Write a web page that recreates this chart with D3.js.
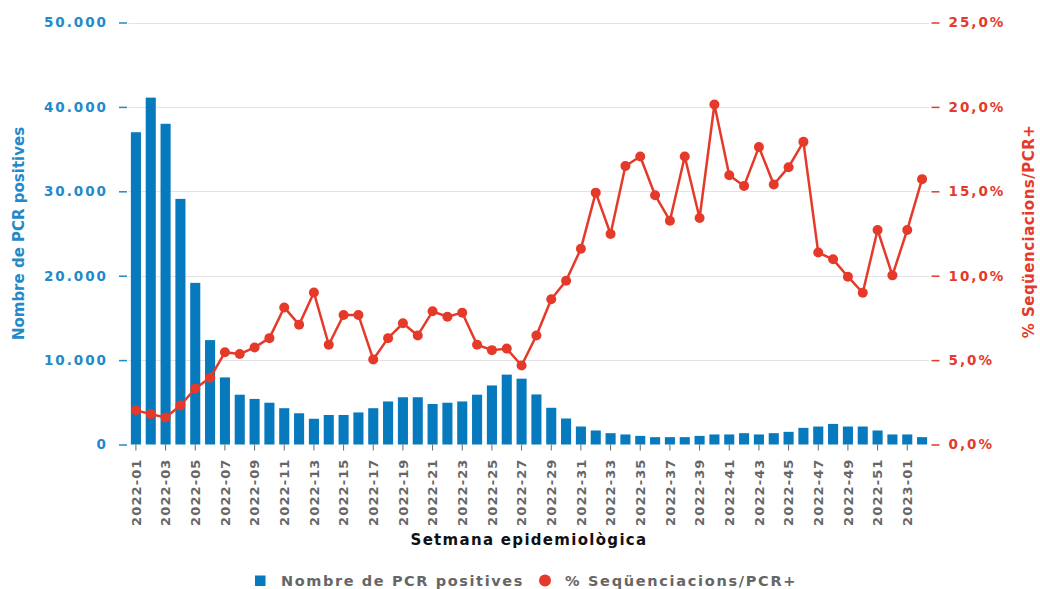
<!DOCTYPE html>
<html>
<head>
<meta charset="utf-8">
<script src="https://cdn.jsdelivr.net/npm/d3@7"></script>
<style>
  body { margin: 0; background: #fff; }
  svg text { font-family: "DejaVu Sans", Verdana, sans-serif; font-weight: bold; }
</style>
</head>
<body>
<svg id="chart" width="1040" height="589"></svg>
<script>
// setmanes epidemiologiques
let weeks = [
    "2022-01", "2022-02", "2022-03", "2022-04", "2022-05", "2022-06", "2022-07", "2022-08", "2022-09", "2022-10",
    "2022-11", "2022-12", "2022-13", "2022-14", "2022-15", "2022-16", "2022-17", "2022-18", "2022-19", "2022-20",
    "2022-21", "2022-22", "2022-23", "2022-24", "2022-25", "2022-26", "2022-27", "2022-28", "2022-29", "2022-30",
    "2022-31", "2022-32", "2022-33", "2022-34", "2022-35", "2022-36", "2022-37", "2022-38", "2022-39", "2022-40",
    "2022-41", "2022-42", "2022-43", "2022-44", "2022-45", "2022-46", "2022-47", "2022-48", "2022-49", "2022-50",
    "2022-51", "2022-52", "2023-01", "2023-02"
];

// Nombre de PCR positives
let pcrPositives = [
    37000, 41100, 38000, 29100, 19150, 12370, 7950, 5900, 5400, 4950,
    4300, 3700, 3050, 3500, 3500, 3800, 4300, 5100, 5600, 5600,
    4800, 4950, 5100, 5900, 7000, 8280, 7800, 5930, 4350, 3080,
    2130, 1660, 1340, 1190, 1020, 870, 870, 870, 1020, 1190,
    1190, 1340, 1190, 1340, 1500, 1970, 2130, 2440, 2130, 2130,
    1660, 1190, 1190, 870
];

// % Sequenciacions / PCR+
let seqPercent = [
    2.03, 1.80, 1.60, 2.31, 3.32, 3.95, 5.46, 5.36, 5.75, 6.30,
    8.12, 7.10, 9.00, 5.91, 7.67, 7.67, 5.04, 6.30, 7.18, 6.46,
    7.89, 7.57, 7.81, 5.91, 5.59, 5.68, 4.68, 6.46, 8.60, 9.70,
    11.60, 14.92, 12.47, 16.50, 17.06, 14.77, 13.26, 17.06, 13.42, 20.14,
    15.95, 15.32, 17.62, 15.40, 16.43, 17.93, 11.37, 10.97, 9.94, 8.99,
    12.71, 10.02, 12.71, 15.72
];

let leftTicks = [0, 10000, 20000, 30000, 40000, 50000];
let rightTicks = [0, 5, 10, 15, 20, 25];

let blue = "#0779bd";
let blueText = "#2389c9";
let red = "#e5392a";
let grey = "#666666";

let locale = d3.formatLocale({decimal: ",", thousands: ".", grouping: [3], currency: ["", "€"]});
let fmtInt = locale.format(",d");
let fmtPct = v => locale.format(".1f")(v) + "%";

let visualize = function () {
    let width = 1040, height = 589;
    let config = {
        margin: {top: 22.5, bottom: 144.5, left: 128.5, right: 110.5}
    };
    config.bodyWidth = width - config.margin.left - config.margin.right;
    config.bodyHeight = height - config.margin.top - config.margin.bottom;

    let svg = d3.select("#chart");

    // scales
    let xScale = d3.scaleBand()
        .domain(weeks)
        .range([config.margin.left, config.margin.left + config.bodyWidth])
        .paddingInner(0.32)
        .paddingOuter(0.16);
    let yLeft = d3.scaleLinear()
        .domain([0, 50000])
        .range([config.margin.top + config.bodyHeight, config.margin.top]);
    let yRight = d3.scaleLinear()
        .domain([0, 25])
        .range([config.margin.top + config.bodyHeight, config.margin.top]);

    let x0 = config.margin.left, x1 = config.margin.left + config.bodyWidth;
    let yBase = config.margin.top + config.bodyHeight;

    // grid
    svg.append("g")
        .selectAll("line")
        .data(leftTicks.slice(1))
        .enter()
        .append("line")
        .attr("x1", x0)
        .attr("x2", x1)
        .attr("y1", d => Math.round(yLeft(d)) + 0.5)
        .attr("y2", d => Math.round(yLeft(d)) + 0.5)
        .attr("stroke", "#e3e3e3")
        .attr("stroke-width", 1);

    // bars
    svg.append("g")
        .selectAll(".bar")
        .data(pcrPositives)
        .enter()
        .append("rect")
        .attr("x", (d, i) => xScale(weeks[i]))
        .attr("y", d => yLeft(d))
        .attr("width", xScale.bandwidth())
        .attr("height", d => yBase - yLeft(d))
        .attr("fill", blue);

    // x axis
    let xAx = d3.axisBottom(xScale)
        .tickValues(weeks.filter((d, i) => i % 2 === 0))
        .tickSize(6)
        .tickSizeOuter(0);
    let gx = svg.append("g")
        .attr("transform", `translate(0,${yBase})`)
        .call(xAx);
    gx.select(".domain").remove();
    gx.selectAll(".tick line").attr("stroke", grey);
    gx.selectAll(".tick text")
        .attr("transform", "rotate(-90)")
        .attr("x", -14)
        .attr("y", 0)
        .attr("dy", "0.36em")
        .style("text-anchor", "end")
        .style("font-size", "13px")
        .style("letter-spacing", "1.1px")
        .attr("fill", grey);

    // left axis
    let yAx = d3.axisLeft(yLeft)
        .tickValues(leftTicks)
        .tickFormat(fmtInt)
        .tickSize(8)
        .tickPadding(11);
    let gl = svg.append("g")
        .attr("transform", `translate(${x0 - 1.5},0)`)
        .call(yAx);
    gl.select(".domain").remove();
    gl.selectAll(".tick line").attr("stroke", blueText).attr("stroke-width", 1.5);
    gl.selectAll(".tick text")
        .style("font-size", "13.5px")
        .style("letter-spacing", "2px")
        .attr("fill", blueText);

    // right axis
    let yAx2 = d3.axisRight(yRight)
        .tickValues(rightTicks)
        .tickFormat(fmtPct)
        .tickSize(8)
        .tickPadding(9);
    let gr = svg.append("g")
        .attr("transform", `translate(${x1 + 2},0)`)
        .call(yAx2);
    gr.select(".domain").remove();
    gr.selectAll(".tick line").attr("stroke", red).attr("stroke-width", 1.5);
    gr.selectAll(".tick text")
        .style("font-size", "13.5px")
        .style("letter-spacing", "2px")
        .attr("fill", red);

    // line
    let line = d3.line()
        .x((d, i) => xScale(weeks[i]) + xScale.bandwidth() / 2)
        .y(d => yRight(d));
    svg.append("path")
        .datum(seqPercent)
        .attr("d", line)
        .attr("fill", "none")
        .attr("stroke", red)
        .attr("stroke-width", 2.5)
        .attr("stroke-linejoin", "round");
    svg.append("g")
        .selectAll("circle")
        .data(seqPercent)
        .enter()
        .append("circle")
        .attr("cx", (d, i) => xScale(weeks[i]) + xScale.bandwidth() / 2)
        .attr("cy", d => yRight(d))
        .attr("r", 5)
        .attr("fill", red);

    // axis titles
    svg.append("text")
        .attr("transform", `translate(24,${yLeft(25000)}) rotate(-90)`)
        .attr("text-anchor", "middle")
        .style("font-size", "15px")
        .attr("fill", blueText)
        .text("Nombre de PCR positives");
    svg.append("text")
        .attr("transform", `translate(1034,${yRight(12.5) - 2}) rotate(-90)`)
        .attr("text-anchor", "middle")
        .style("font-size", "15px")
        .style("letter-spacing", "0.5px")
        .attr("fill", red)
        .text("% Seqüenciacions/PCR+");
    svg.append("text")
        .attr("x", 529)
        .attr("y", 545)
        .attr("text-anchor", "middle")
        .style("font-size", "15px")
        .style("letter-spacing", "1.3px")
        .attr("fill", "#111")
        .text("Setmana epidemiològica");

    // legend
    let legend = svg.append("g").attr("transform", "translate(0,586)");
    legend.append("rect")
        .attr("x", 255).attr("y", -10.5)
        .attr("width", 10.5).attr("height", 10.5)
        .attr("fill", blue);
    legend.append("text")
        .attr("x", 281).attr("y", 0)
        .style("font-size", "14.5px")
        .style("letter-spacing", "1.6px")
        .attr("fill", grey)
        .text("Nombre de PCR positives");
    legend.append("circle")
        .attr("cx", 545).attr("cy", -5.5).attr("r", 6)
        .attr("fill", red);
    legend.append("text")
        .attr("x", 565).attr("y", 0)
        .style("font-size", "14.5px")
        .style("letter-spacing", "1.7px")
        .attr("fill", grey)
        .text("% Seqüenciacions/PCR+");
};

visualize();
</script>
</body>
</html>
